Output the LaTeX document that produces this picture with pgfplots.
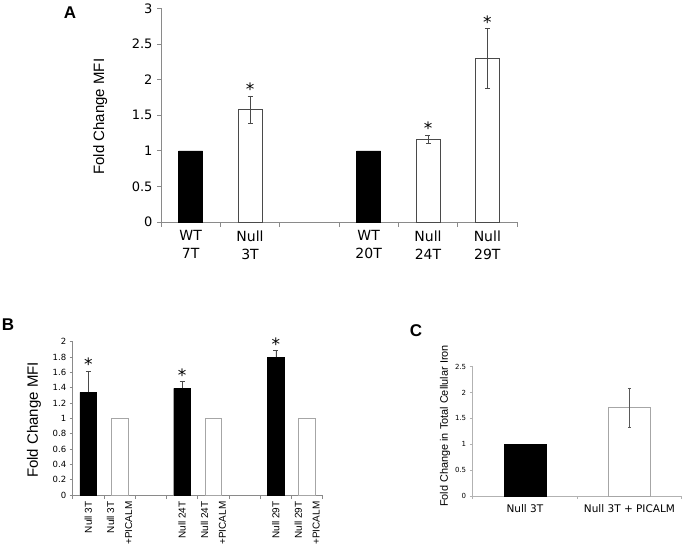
\documentclass[border=0pt]{standalone}
\usepackage{pgfplots}
\pgfplotsset{compat=1.18}
\usepackage{fontspec}
\setmainfont{Liberation Sans}
\newfontfamily\dv{DejaVu Sans}
\definecolor{axgray}{HTML}{8A8A8A}
\definecolor{errgray}{HTML}{4A4A4A}
\begin{document}
\begin{tikzpicture}[x=1pt,y=1pt]
\path[use as bounding box] (0,0) rectangle (685,557);
\pgfplotsset{
  panel/.style={
    scale only axis, axis lines*=left, ybar, bar shift=0pt,
    axis line style={axgray, line width=0.8pt},
    every tick/.style={axgray, line width=0.8pt},
    tick align=outside, enlargelimits=false, clip=false,
    /pgf/number format/assume math mode=true,
    major x tick style={draw=none},
    minor tick length=5pt, major tick length=4pt,
    error bars/error bar style={errgray, line width=0.6pt},
    error bars/error mark options={rotate=90, errgray, mark size=2.5pt, line width=0.6pt},
  },
  blackbar/.style={fill=black, draw=black},
  star/.style={draw=none, fill=none, nodes near coords={*},
    every node near coord/.append style={anchor=south, inner sep=0pt, text=black, font=\dv\fontsize{17}{17}\selectfont}},
}
% Panel A
\begin{axis}[panel, at={(161pt,335pt)}, anchor=south west,
  width=356pt, height=213.7pt,
  xmin=-0.5, xmax=5.5, ymin=0, ymax=3,
  ytick={0,0.5,1,1.5,2,2.5,3},
  xtick={0,1,2,3,4,5},
  xticklabels={{WT\\7T},{Null\\3T},{},{WT\\20T},{Null\\24T},{Null\\29T}},
  minor xtick={-0.5,0.5,1.5,2.5,3.5,4.5,5.5},
  bar width=24pt,
  yticklabel style={font=\dv\fontsize{13}{13}\selectfont, xshift=-1pt},
  xticklabel style={font=\dv\fontsize{14}{18}\selectfont, align=center, yshift=-1pt},
  ylabel={Fold Change MFI},
  ylabel style={at={(axis description cs:-0.171,0.493)}, anchor=center, font=\fontsize{15}{15}\selectfont},
]
\addplot[blackbar] coordinates {(0,1) (3,1)};
\addplot[fill=white, draw=errgray, line width=0.8pt,
  error bars/.cd, y dir=both, y explicit]
  coordinates {(1,1.58) +- (0,0.19) (4,1.16) +- (0,0.06) (5,2.30) +- (0,0.42)};
\addplot[star] coordinates {(1,1.77) (4,1.22) (5,2.72)};
\end{axis}
\node[font=\bfseries\fontsize{17}{17}\selectfont] at (70,544) {A};

% Panel B
\begin{axis}[panel, at={(72.7pt,62pt)}, anchor=south west,
  width=250pt, height=153.3pt,
  xmin=-0.5, xmax=7.5, ymin=0, ymax=2,
  ytick={0,0.2,0.4,0.6,0.8,1,1.2,1.4,1.6,1.8,2},
  yticklabels={0,0.2,0.4,0.6,0.8,1,1.2,1.4,1.6,1.8,2},
  xtick={0,1,2,3,4,5,6,7},
  xticklabels={{Null 3T},{Null 3T\\+PICALM},{},{Null 24T},{Null 24T\\+PICALM},{},{Null 29T},{Null 29T\\+PICALM}},
  minor xtick={-0.5,0.5,1.5,2.5,3.5,4.5,5.5,6.5,7.5},
  major tick length=3pt, minor tick length=4pt,
  bar width=16.7pt,
  yticklabel style={font=\dv\fontsize{8.5}{8.5}\selectfont},
  xticklabel style={rotate=90, anchor=east, align=right, font=\fontsize{10}{17.8}\selectfont, yshift=0pt},
  ylabel={Fold Change MFI},
  ylabel style={at={(axis description cs:-0.155,0.489)}, anchor=center, font=\fontsize{15}{15}\selectfont},
]
\addplot[blackbar, error bars/.cd, y dir=plus, y explicit]
  coordinates {(0,1.34) +- (0,0.28) (3,1.39) +- (0,0.09) (6,1.795) +- (0,0.09)};
\addplot[fill=white, draw=gray!70, line width=0.8pt] coordinates {(1,1) (4,1) (7,1)};
\addplot[star] coordinates {(0,1.62) (3,1.48) (6,1.885)};
\end{axis}
\node[font=\bfseries\fontsize{17}{17}\selectfont] at (8,232) {B};

% Panel C
\begin{axis}[panel, at={(472.7pt,61pt)}, anchor=south west,
  width=209pt, height=129.2pt,
  xmin=-0.5, xmax=1.5, ymin=0, ymax=2.5,
  ytick={0,0.5,1,1.5,2,2.5},
  xtick={0,1},
  xticklabels={{Null 3T},{Null 3T + PICALM}},
  minor xtick={-0.5,0.5,1.5},
  axis line style={gray!60, line width=0.7pt},
  every tick/.style={gray!60, line width=0.7pt},
  major tick length=3pt, minor tick length=3pt,
  bar width=41.7pt,
  yticklabel style={font=\dv\fontsize{7}{7}\selectfont},
  xticklabel style={font=\dv\fontsize{10.5}{10.5}\selectfont, yshift=-2pt},
  ylabel={Fold Change in Total Cellular Iron},
  ylabel style={at={(axis description cs:-0.1325,0.542)}, anchor=center, font=\fontsize{10.9}{10.9}\selectfont},
  error bars/error bar style={gray!70!black, line width=0.5pt},
  error bars/error mark options={rotate=90, gray!70!black, mark size=1.5pt, line width=0.5pt},
]
\addplot[blackbar] coordinates {(0,1)};
\addplot[fill=white, draw=gray!70, line width=0.8pt,
  error bars/.cd, y dir=both, y explicit]
  coordinates {(1,1.71) +- (0,0.38)};
\end{axis}
\node[font=\bfseries\fontsize{17}{17}\selectfont] at (416,226) {C};
\end{tikzpicture}
\end{document}
